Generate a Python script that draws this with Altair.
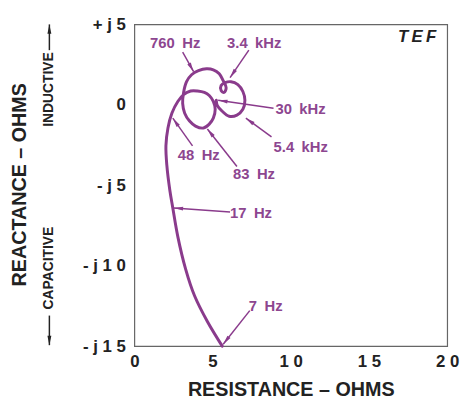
import math
import altair as alt
import pandas as pd

# ---- data (resistance R, reactance X, in ohms) ----
curve_r = [5.62, 4.67, 3.85, 3.28, 2.78, 2.46, 2.27, 2.08, 2.02, 2.15, 2.40, 2.78,
           3.15, 3.60, 4.04, 4.48, 4.79, 5.05,
           5.17, 5.05, 4.79, 4.42, 3.91, 3.53, 3.22, 3.09, 3.15, 3.34,
           3.66, 4.10, 4.61, 5.05, 5.43, 5.68, 5.87, 5.74, 5.55, 5.55,
           5.80, 6.18, 6.62, 6.94, 7.07, 6.94, 6.56, 6.06, 5.62, 5.30, 5.24]
curve_x = [-15.0, -13.47, -11.87, -10.21, -8.19, -6.41, -5.31, -3.77, -2.55, -1.44,
           -0.52, 0.21, 0.64, 0.86, 0.86, 0.77, 0.58, 0.21,
           -0.28, -0.83, -1.20, -1.44, -1.32, -1.01, -0.52, 0.09, 0.77, 1.44,
           1.87, 2.12, 2.24, 2.18, 1.93, 1.50, 1.07, 0.77, 0.89, 1.20,
           1.38, 1.44, 1.26, 0.83, 0.28, -0.28, -0.64, -0.71, -0.40, -0.03, 0.28]

freq_labels = ["760\u2002Hz", "3.4\u2002kHz", "30\u2002kHz", "5.4\u2002kHz",
               "48\u2002Hz", "83\u2002Hz", "17\u2002Hz", "7\u2002Hz"]
label_r = [1.01, 5.93, 9.02, 8.90, 2.78, 6.31, 6.12, 7.32]
label_x = [3.83, 3.83, -0.28, -2.61, -3.10, -4.33, -6.72, -12.48]
arrow_r0 = [3.09, 7.32, 8.90, 8.77, 3.72, 6.56, 6.12, 7.38]
arrow_x0 = [3.28, 3.40, -0.21, -1.99, -2.55, -3.83, -6.66, -12.79]
arrow_r1 = [3.79, 6.12, 5.36, 7.13, 2.46, 4.67, 2.52, 5.68]
arrow_x1 = [2.06, 1.69, 0.28, -0.83, -0.83, -1.50, -6.41, -14.88]

side_labels = ["INDUCTIVE", "CAPACITIVE"]
side_r = [-5.43, -5.43]
side_x = [0.95, -10.15]
side_arrow_x0 = [3.40, -13.10]
side_arrow_x1 = [5.0, -14.94]

x_ticks = [0, 5, 10, 15, 20]
x_tick_labels = ["0", "5", "1 0", "1 5", "2 0"]
y_ticks = [5, 0, -5, -10, -15]
y_tick_labels = ["+ j 5", "0", "- j 5", "- j 1 0", "- j 1 5"]

corner_text = ["T\u2009E\u2009F"]
corner_r = [19.31]
corner_x = [4.20]

# ---- styling / layout ----
PURPLE = "#8a3b8c"
LABEL_PURPLE = "#8d4690"
DARK = "#222222"
FONT = "Liberation Sans, Arial, Helvetica, sans-serif"
W, H = 317, 326
XDOM, YDOM = [0, 20], [-15, 5]


def expr_from(values, labels):
    e = "datum.label"
    for v, l in zip(values, labels):
        e = f"datum.value == {v} ? '{l}' : ({e})"
    return e


def head_angle(r0, x0, r1, x1):
    sx = (r1 - r0) * W / (XDOM[1] - XDOM[0])
    sy = -(x1 - x0) * H / (YDOM[1] - YDOM[0])
    return math.degrees(math.atan2(sx, -sy)) % 360


curve_df = pd.DataFrame({"i": range(len(curve_r)), "r": curve_r, "reac": curve_x})

arrow_rows = []
for r0, x0, r1, x1 in zip(arrow_r0, arrow_x0, arrow_r1, arrow_x1):
    arrow_rows.append(dict(r0=r0, x0=x0, r1=r1, x1=x1, c=PURPLE,
                           ang=head_angle(r0, x0, r1, x1)))
for r, x0, x1 in zip(side_r, side_arrow_x0, side_arrow_x1):
    arrow_rows.append(dict(r0=r, x0=x0, r1=r, x1=x1, c=DARK,
                           ang=head_angle(r, x0, r, x1)))
arrow_df = pd.DataFrame(arrow_rows)

labels_df = pd.DataFrame({"r": label_r, "reac": label_x, "t": freq_labels})
side_df = pd.DataFrame({"r": side_r, "reac": side_x, "t": side_labels})
corner_df = pd.DataFrame({"r": corner_r, "reac": corner_x, "t": corner_text})

xscale = alt.Scale(domain=XDOM, nice=False, zero=False)
yscale = alt.Scale(domain=YDOM, nice=False, zero=False)

x_axis = alt.Axis(values=x_ticks, labelExpr=expr_from(x_ticks, x_tick_labels),
                  title="RESISTANCE \u2013 OHMS", grid=False, ticks=False, tickSize=0,
                  domain=False, labelFont=FONT, labelFontSize=17, labelFontWeight="bold",
                  labelColor=DARK, labelPadding=8, labelOverlap=False, labelFlush=False,
                  titleFont=FONT, titleFontSize=20, titleFontWeight="bold",
                  titleColor=DARK, titleY=50, titleBaseline="alphabetic")
y_axis = alt.Axis(values=y_ticks, labelExpr=expr_from(y_ticks, y_tick_labels),
                  title="REACTANCE \u2013 OHMS", grid=False, ticks=False, tickSize=0,
                  domain=False, labelFont=FONT, labelFontSize=17, labelFontWeight="bold",
                  labelColor=DARK, labelPadding=9, labelOverlap=False, labelFlush=False,
                  titleFont=FONT, titleFontSize=20, titleFontWeight="bold",
                  titleColor=DARK, titleX=-110, titleY=162, titleAngle=270,
                  titleAlign="center", titleBaseline="alphabetic")

curve = alt.Chart(curve_df).mark_line(
    color=PURPLE, strokeWidth=3, interpolate="catmull-rom", strokeCap="round"
).encode(
    x=alt.X("r:Q", scale=xscale, axis=x_axis),
    y=alt.Y("reac:Q", scale=yscale, axis=y_axis),
    order="i:Q",
)

rules = alt.Chart(arrow_df).mark_rule(strokeWidth=1.5).encode(
    x=alt.X("r0:Q", scale=xscale), y=alt.Y("x0:Q", scale=yscale),
    x2="r1:Q", y2="x1:Q",
    color=alt.Color("c:N", scale=None),
)

heads = alt.Chart(arrow_df).mark_point(
    shape="M0,0L0.42,2L-0.42,2Z", filled=True, size=90, opacity=1
).encode(
    x=alt.X("r1:Q", scale=xscale), y=alt.Y("x1:Q", scale=yscale),
    angle=alt.Angle("ang:Q", scale=None),
    color=alt.Color("c:N", scale=None),
)

freq_text = alt.Chart(labels_df).mark_text(
    align="left", baseline="middle", font=FONT, fontSize=15, fontWeight="bold",
    color=LABEL_PURPLE
).encode(x=alt.X("r:Q", scale=xscale), y=alt.Y("reac:Q", scale=yscale), text="t:N")

side_text = alt.Chart(side_df).mark_text(
    align="center", baseline="middle", font=FONT, fontSize=14, fontWeight="bold",
    color=DARK, angle=270
).encode(x=alt.X("r:Q", scale=xscale), y=alt.Y("reac:Q", scale=yscale), text="t:N")

corner = alt.Chart(corner_df).mark_text(
    align="right", baseline="middle", font=FONT, fontSize=17, fontWeight="bold",
    fontStyle="italic", color=DARK
).encode(x=alt.X("r:Q", scale=xscale), y=alt.Y("reac:Q", scale=yscale), text="t:N")

chart = alt.layer(curve, rules, heads, freq_text, side_text, corner).properties(
    width=W, height=H,
    padding={"left": 128, "top": 14, "right": 13, "bottom": 56},
    autosize=alt.AutoSizeParams(type="none"),
).configure_view(stroke="#666666", strokeWidth=1.2)

chart.save("out.html", embed_options={"renderer": "svg", "actions": False})
